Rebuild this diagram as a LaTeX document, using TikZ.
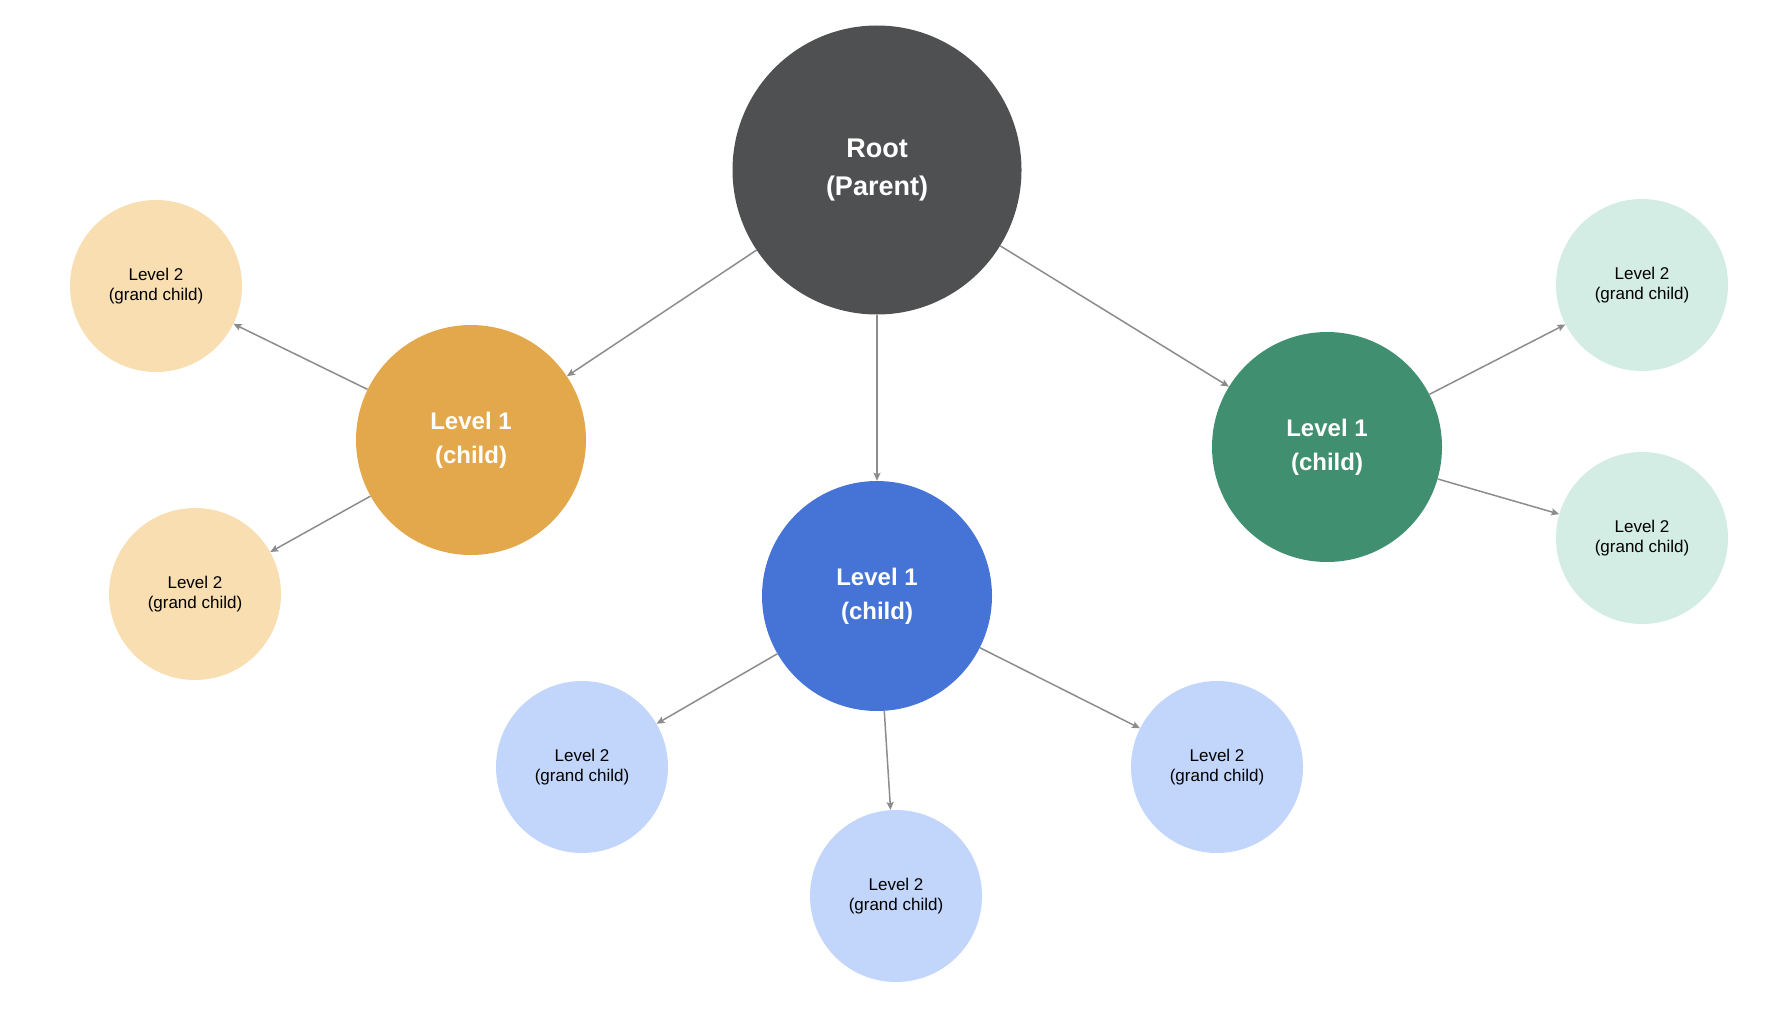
\documentclass[tikz,border=0pt]{standalone}
\usepackage{fontspec}
\setsansfont{Liberation Sans}
\usepackage{xcolor}
\usepackage{tikz}
\usetikzlibrary{arrows.meta}
\definecolor{RootFill}{HTML}{4F5052}
\definecolor{AmberFill}{HTML}{E2A84B}
\definecolor{AmberPale}{HTML}{F8DEB0}
\definecolor{CobaltFill}{HTML}{4574D6}
\definecolor{CobaltPale}{HTML}{C2D5FB}
\definecolor{PineFill}{HTML}{3F8F70}
\definecolor{PinePale}{HTML}{D3ECE4}
\definecolor{LinkInk}{HTML}{8C8C8C}
\tikzset{
  figure/.style={x=1pt,y=-1pt,font=\sffamily},
  rootball/.style={circle,inner sep=0pt,minimum size=289pt,fill=RootFill,text=white,align=center,
    font=\sffamily\bfseries\fontsize{27}{38}\selectfont},
  childball/.style={circle,inner sep=0pt,minimum size=230pt,fill=#1,text=white,align=center,
    font=\sffamily\bfseries\fontsize{24}{34}\selectfont},
  grandball/.style={circle,inner sep=0pt,minimum size=172pt,fill=#1,text=black,align=center,
    font=\sffamily\fontsize{17}{20}\selectfont},
  link/.style={-{Stealth[length=8pt,width=7pt,inset=1.5pt]},line width=1.5pt,draw=LinkInk},
}

\begin{document}
\begin{tikzpicture}[figure]
  \useasboundingbox (0,0) rectangle (1768,1014);

  \node[rootball] (root) at (877,170) {Root\\(Parent)};

  \node[childball=AmberFill] (childL) at (471,440) {Level 1\\(child)};
  \node[childball=CobaltFill] (childM) at (877,596) {Level 1\\(child)};
  \node[childball=PineFill] (childR) at (1327,447) {Level 1\\(child)};

  \node[grandball=AmberPale] (grandLA) at (156,286) {Level 2\\(grand child)};
  \node[grandball=AmberPale] (grandLB) at (195,594) {Level 2\\(grand child)};
  \node[grandball=CobaltPale] (grandMA) at (582,767) {Level 2\\(grand child)};
  \node[grandball=CobaltPale] (grandMB) at (896,896) {Level 2\\(grand child)};
  \node[grandball=CobaltPale] (grandMC) at (1217,767) {Level 2\\(grand child)};
  \node[grandball=PinePale] (grandRA) at (1642,285) {Level 2\\(grand child)};
  \node[grandball=PinePale] (grandRB) at (1642,538) {Level 2\\(grand child)};

  \foreach \kid in {childL,childM,childR}
    \draw[link] (root) -- (\kid);
  \foreach \grand in {grandLA,grandLB}
    \draw[link] (childL) -- (\grand);
  \foreach \grand in {grandMA,grandMB,grandMC}
    \draw[link] (childM) -- (\grand);
  \foreach \grand in {grandRA,grandRB}
    \draw[link] (childR) -- (\grand);
\end{tikzpicture}
\end{document}
